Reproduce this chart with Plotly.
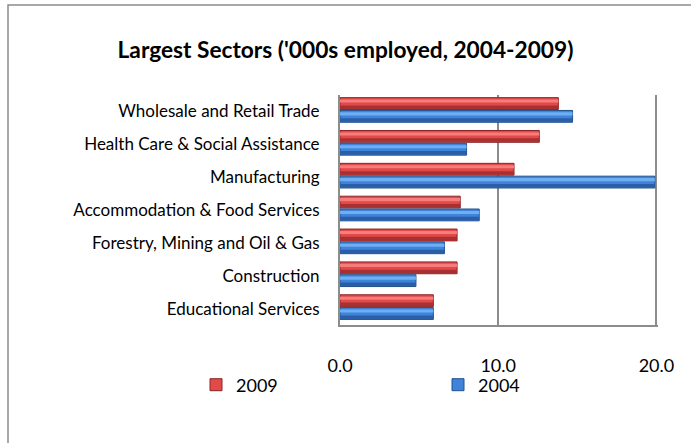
import plotly.graph_objects as go

sectors = [
    "Wholesale and Retail Trade",
    "Health Care & Social Assistance",
    "Manufacturing",
    "Accommodation & Food Services",
    "Forestry, Mining and Oil & Gas",
    "Construction",
    "Educational Services",
]
emp_2009 = [13.8, 12.6, 11.0, 7.6, 7.4, 7.4, 5.9]
emp_2004 = [14.7, 8.0, 19.9, 8.8, 6.6, 4.8, 5.9]
x_ticks = [0, 10, 20]
x_tick_text = ["0.0", "10.0", "20.0"]

FONT = "Lato, 'Open Sans', sans-serif"

# per-series styling: slot offset within a category, shading bands, legend box
series = [
    dict(name="2009", values=emp_2009, offset=0.06, legend="legend",
         main="#e24a4a", dark="#a83030", light="#f77c7c", edge="#8a2626"),
    dict(name="2004", values=emp_2004, offset=-0.33, legend="legend2",
         main="#3f84da", dark="#2a5ea6", light="#6eaef2", edge="#22508c"),
]
BAR_W = 0.36

fig = go.Figure()
for s in series:
    # base bar
    fig.add_trace(go.Bar(
        y=sectors, x=s["values"], name=s["name"], orientation="h",
        offset=s["offset"], width=BAR_W, legend=s["legend"],
        marker=dict(color=s["main"], line=dict(color=s["edge"], width=1)),
    ))
    # darker lower band and lighter upper band for a rounded look
    for frac0, frac1, col in [(0.04, 0.34, s["dark"]), (0.58, 0.84, s["light"])]:
        fig.add_trace(go.Bar(
            y=sectors, x=s["values"], orientation="h", showlegend=False,
            offset=s["offset"] + BAR_W * frac0, width=BAR_W * (frac1 - frac0),
            marker=dict(color=col, line=dict(width=0)), hoverinfo="skip",
        ))

W, H = 691, 443
L, R, T, B = 340, 33, 95, 118
legend_common = dict(
    orientation="h", xref="container", yref="container",
    xanchor="left", y=1 - 385 / H, yanchor="middle",
    font=dict(family=FONT, size=18), itemwidth=30,
    bgcolor="rgba(0,0,0,0)",
)
fig.update_layout(
    width=W, height=H,
    paper_bgcolor="white", plot_bgcolor="white",
    margin=dict(l=L, r=R, t=T, b=B, autoexpand=False),
    barmode="overlay",
    font=dict(family=FONT, size=17, color="#000000"),
    title=dict(
        text="<b>Largest Sectors ('000s employed, 2004-2009)</b>",
        x=0.5, xanchor="center", xref="container",
        y=1 - 50 / H, yanchor="middle",
        font=dict(family=FONT, size=22.7, color="#000000"),
    ),
    showlegend=True,
    legend=dict(x=196 / W, **legend_common),
    legend2=dict(x=438 / W, **legend_common),
    xaxis=dict(
        range=[0, 20.1], tickvals=x_ticks, ticktext=x_tick_text,
        showgrid=True, gridcolor="#8c8c8c", gridwidth=1.5,
        showline=True, linecolor="#8c8c8c", linewidth=2,
        zeroline=False, ticks="", ticklabelstandoff=23,
        tickfont=dict(family=FONT, size=18),
        fixedrange=True,
    ),
    yaxis=dict(
        categoryorder="array", categoryarray=sectors[::-1],
        range=[-0.5, 6.5],
        showline=True, linecolor="#8c8c8c", linewidth=2,
        showgrid=False, ticks="", ticklabelstandoff=15,
        tickfont=dict(family=FONT, size=17),
    ),
)

# outer chart-area frame
PW, PH = W - L - R, H - T - B
fig.add_shape(
    type="rect", xref="paper", yref="paper",
    x0=-(L - 8) / PW, x1=(W + 20 - L) / PW,
    y0=-(B + 20) / PH, y1=1 + (T - 5) / PH,
    line=dict(color="#8c8c8c", width=1.5), layer="below",
)

fig.write_html("out.html")
